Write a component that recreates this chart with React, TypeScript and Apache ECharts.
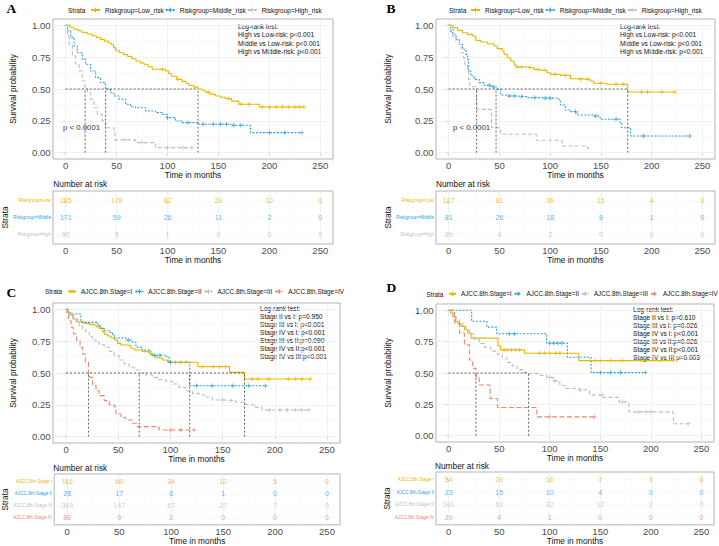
import React, { useEffect, useRef } from 'react';
import * as echarts from 'echarts';

const FONT = '"Liberation Sans", Arial, Helvetica, sans-serif';
const YEL = '#E7B800';
const BLU = '#2E9FDF';
const GRY = '#BDBDBD';
const SAL = '#E8896E';

const xTicks = [0, 50, 100, 150, 200, 250];
const xMinor = [25, 75, 125, 175, 225];
const yTicks = [0, 0.25, 0.5, 0.75, 1];
const yMinor = [0.125, 0.375, 0.625, 0.875];

const riskLegend = ['Riskgroup=Low_risk', 'Riskgroup=Middle_risk', 'Riskgroup=High_risk'];
const riskRows = ['Riskgroup=Low', 'Riskgroup=Middle', 'Riskgroup=High'];
const stageLegend = ['AJCC.8th.Stage=I', 'AJCC.8th.Stage=II', 'AJCC.8th.Stage=III', 'AJCC.8th.Stage=IV'];
const stageRows = ['AJCC.8th.Stage I', 'AJCC.8th.Stage II', 'AJCC.8th.Stage III', 'AJCC.8th.Stage IV'];

const logRankAB = ['Log-rank test:', 'High vs Low-risk: p<0.001', 'Middle vs Low-risk: p<0.001', 'High vs Middle-risk: p<0.001'];
const logRankC = ['Log-rank test:', 'Stage II vs I: p=0.950', 'Stage III vs I: p<0.001', 'Stage IV vs I: p<0.001', 'Stage III vs II:p=0.090', 'Stage IV vs II:p<0.001', 'Stage IV vs III:p<0.001'];
const logRankD = ['Log-rank test:', 'Stage II vs I: p=0.610', 'Stage III vs I: p=0.026', 'Stage IV vs I: p<0.001', 'Stage III vs II:p=0.026', 'Stage IV vs II:p<0.001', 'Stage IV vs III:p=0.003'];
const pValueText = 'p < 0.0001';

// ---- Panel A ----
const aLowT = [0,4,8,12,16,21,26,30,34,38,42,45,47,49,53,57,61,65,69,73,77,81,85,98,101,104,109,114,118,121,126,130,134,137,142,147,152,157,163,170,190,234];
const aLowS = [1,0.985,0.97,0.958,0.945,0.932,0.918,0.905,0.89,0.876,0.862,0.848,0.825,0.8,0.785,0.77,0.755,0.738,0.72,0.705,0.69,0.675,0.655,0.641,0.62,0.6,0.576,0.56,0.545,0.53,0.515,0.5,0.49,0.475,0.46,0.445,0.435,0.424,0.405,0.38,0.359,0.359];
const aLowC = [95,110,140,160,172,180,193,200,207,213,219,225,230,234];
const aMidT = [0,1.6,4.9,8.2,11.4,16.3,19.6,24.5,29.4,34.3,39.2,44.1,47.4,52.3,58.8,63.7,68.6,78.4,88.2,94.8,99.7,107.8,114.4,130.7,163.4,181.4,232];
const aMidS = [1,0.958,0.906,0.838,0.785,0.733,0.694,0.641,0.589,0.55,0.5,0.471,0.445,0.419,0.38,0.361,0.353,0.327,0.314,0.301,0.275,0.249,0.236,0.223,0.215,0.157,0.157];
const aMidC = [100,120,135,145,152,158,165,172,200,215,232];
const aHighT = [0,1.6,3.3,6.5,9.8,13.1,16.3,19,21.2,24.5,27.8,31,35.9,39.2,47.4,48.4,68.6,88.2,124];
const aHighS = [1,0.916,0.851,0.759,0.694,0.641,0.563,0.5,0.471,0.419,0.353,0.301,0.249,0.196,0.17,0.1,0.079,0.039,0.039];
const aHighC = [58,75,100,115,124];
const aRiskLow = [285,178,82,29,10,0];
const aRiskMid = [171,59,26,11,2,0];
const aRiskHigh = [95,5,1,0,0,0];

// ---- Panel B ----
const bLowT = [0,3.9,8.8,13.7,18.6,23.5,26.8,31.7,38.2,44.8,48,52.9,54.6,57.8,61.1,64.4,66,77.5,84,90.5,97.1,100.3,110.1,120,129.7,139.5,142.8,155.9,176.5,222.9];
const bLowS = [1,0.982,0.961,0.942,0.929,0.916,0.882,0.869,0.856,0.838,0.817,0.798,0.772,0.746,0.72,0.694,0.673,0.668,0.654,0.647,0.628,0.615,0.607,0.581,0.576,0.563,0.545,0.537,0.476,0.476];
const bLowC = [68,72,80,88,95,105,115,130,137,150,165,172,190,196,210,222.9];
const bMidT = [0,1.6,3.9,7.2,10.5,13.7,17,18.6,19.6,21.9,25.2,30.1,35,41.5,46.7,51.3,57.8,67.6,77.5,90.5,106.9,110.1,115,119.9,126.5,142.8,149.3,169,170.6,179.4,237.6];
const bMidS = [1,0.955,0.916,0.89,0.851,0.812,0.772,0.733,0.641,0.602,0.576,0.55,0.529,0.518,0.497,0.453,0.445,0.44,0.432,0.427,0.419,0.374,0.335,0.322,0.296,0.288,0.262,0.236,0.196,0.131,0.131];
const bMidC = [40,44,60,65,72,85,95,100,125,145,165,192,237.6];
const bHighT = [0,2.3,4.9,7.2,10.5,12.1,14.7,16,18.6,19.6,20.9,27.5,42.2,51.3,86.3,111.8,137.3];
const bHighS = [1,0.969,0.929,0.877,0.838,0.785,0.746,0.694,0.641,0.576,0.518,0.34,0.196,0.144,0.097,0.052,0];
const bHighC: number[] = [];
const bRiskLow = [127,81,39,15,4,0];
const bRiskMid = [81,26,18,8,1,0];
const bRiskHigh = [29,4,2,0,0,0];

// ---- Panel C ----
const cIT = [0,2.2,4.8,7,11.1,17.5,22.3,25.5,28.7,31.8,35,36.6,39.8,43,46.2,49.4,52.5,58.9,62.1,65.3,73.2,79.6,82.8,86,92.4,97.1,126.4,156.7,171,234];
const cIS = [1,0.976,0.955,0.924,0.903,0.89,0.882,0.877,0.864,0.851,0.825,0.804,0.791,0.777,0.759,0.733,0.72,0.715,0.694,0.681,0.668,0.654,0.636,0.62,0.602,0.584,0.55,0.505,0.453,0.453];
const cIC = [100,105,110,115,131,141,147,153,178,184,194,213,220,226,234];
const cIIT = [0,1.6,3.2,14.3,30.3,33.4,36.6,41.4,44.6,46.2,57.3,63.7,66.9,73,81.2,95.5,98.7,118.5,191.1];
const cIIS = [1,0.976,0.963,0.898,0.872,0.851,0.832,0.819,0.801,0.775,0.759,0.742,0.702,0.68,0.639,0.628,0.584,0.4,0.4];
const cIIC = [60,85,90,100,125,140,160,175,191.1];
const cIIIT = [0,1.6,3.8,6.4,9.6,12.7,15.9,19.1,22.3,25.5,28.7,31.8,36.6,41.4,46.2,51,55.7,60.5,65.3,70.1,76.4,82.8,89.2,95.5,101.9,108.3,114.6,121,127.4,133.8,140.1,152.9,162.4,172,181.5,187.9,232.5];
const cIIIS = [1,0.976,0.95,0.924,0.898,0.872,0.846,0.819,0.785,0.759,0.741,0.723,0.702,0.67,0.636,0.602,0.571,0.545,0.524,0.498,0.484,0.466,0.448,0.435,0.414,0.387,0.361,0.34,0.327,0.309,0.288,0.283,0.27,0.251,0.23,0.209,0.209];
const cIIIC = [150,158,195,205,212,220,226,232.5];
const cIVT = [0,1,2.5,4.8,7,10.2,13.4,15.9,18.5,21.5,22.3,25.5,28.7,31.8,36.6,41.4,46.2,47.8,52.5,57.3,63.7,68.5,86,89.2,122.6];
const cIVS = [1,0.963,0.911,0.859,0.806,0.754,0.702,0.649,0.584,0.49,0.466,0.401,0.361,0.322,0.283,0.251,0.236,0.178,0.152,0.131,0.105,0.079,0.073,0.052,0.052];
const cIVC = [100,110,122.6];
const cRiskI = [116,69,34,12,5,0];
const cRiskII = [28,17,6,1,0,0];
const cRiskIII = [319,147,67,27,7,0];
const cRiskIV = [88,9,2,0,0,0];

// ---- Panel D ----
const dIT = [0,2,4.2,6.8,9.1,12.4,15.6,18.9,22.1,48.8,51.4,74.9,128.9,222.3];
const dIS = [1,0.979,0.947,0.912,0.893,0.872,0.845,0.818,0.778,0.717,0.684,0.658,0.599,0.599];
const dIC = [55,58,62,66,70,90,95,100,106,110,140,145,150,160,172,190,210,222.3];
const dIIT = [0,22.8,37.8,47.5,97,117.5,140.9,194.7];
const dIIS = [1,0.912,0.866,0.813,0.738,0.626,0.503,0.503];
const dIIC = [60,65,100,104,108,112,150,160,170,194.7];
const dIIIT = [0,4.2,7.5,10.7,14,17.3,20.5,25.4,30.3,35.2,41.7,48.2,53.1,57.9,62.8,67.7,74.2,79.1,90.5,97,103.5,110,114.9,129.6,139.3,152.3,168.6,178.4,222.3,237];
const dIIIS = [1,0.95,0.925,0.898,0.872,0.84,0.81,0.77,0.735,0.706,0.674,0.647,0.62,0.585,0.556,0.527,0.505,0.495,0.481,0.465,0.437,0.4,0.377,0.364,0.326,0.306,0.27,0.19,0.096,0.096];
const dIIIC = [100,105,130,152,172,188,195,200,237];
const dIVT = [0,5.9,10.7,15.6,20.5,23.8,27,30.3,41,48.2,87.2,144.2];
const dIVS = [1,0.898,0.818,0.725,0.604,0.537,0.471,0.404,0.297,0.225,0.15,0.15];
const dIVC = [100,144.2];
const dRiskI = [54,29,16,7,3,0];
const dRiskII = [23,15,10,4,0,0];
const dRiskIII = [131,63,32,12,2,0];
const dRiskIV = [29,4,1,0,0,0];

const PLUS = 'path://M2,0H3V2H5V3H3V5H2V3H0V2H2Z';
const DASH_LOW: any = 'solid';
const DASH_MID: any = [2, 1.5];
const DASH_HIGH: any = [4, 2.5];
const DASH_IV: any = [5, 2.5];

function stepAt(T: number[], S: number[], t: number) {
  let v = S[0];
  for (let i = 0; i < T.length; i++) {
    if (T[i] <= t) v = S[i];
    else break;
  }
  return v;
}
function medianOf(T: number[], S: number[]) {
  for (let i = 0; i < T.length; i++) if (S[i] <= 0.5) return T[i];
  return null;
}

type Curve = { name: string; T: number[]; S: number[]; cens: number[]; color: string; dash: any };

const panels: any[] = [
  {
    letter: 'A', letterPos: [6.5, 8],
    plot: { left: 53, top: 19, width: 280, height: 140 },
    table: { left: 53, top: 191, width: 280, height: 53 },
    curves: [
      { name: riskLegend[0], T: aLowT, S: aLowS, cens: aLowC, color: YEL, dash: DASH_LOW },
      { name: riskLegend[1], T: aMidT, S: aMidS, cens: aMidC, color: BLU, dash: DASH_MID },
      { name: riskLegend[2], T: aHighT, S: aHighS, cens: aHighC, color: GRY, dash: DASH_HIGH },
    ],
    rows: riskRows, risk: [aRiskLow, aRiskMid, aRiskHigh], rowColors: [YEL, BLU, GRY],
    legendPos: [90, 6.5], legendFont: 6.5, legendItemW: 9, legendGap: 1, strataPos: [68, 10],
    logRank: logRankAB, logRankPos: [238, 22.5], lineH: 8.33,
    pPos: [63, 127.2], nRiskPos: [53.3, 184],
    yNameGap: 36, tYNameGap: 44, xNameGap: 10.5, txNameGap: 9,
  },
  {
    letter: 'B', letterPos: [386.5, 8],
    plot: { left: 436, top: 19, width: 279, height: 140 },
    table: { left: 436, top: 191, width: 279, height: 53 },
    curves: [
      { name: riskLegend[0], T: bLowT, S: bLowS, cens: bLowC, color: YEL, dash: DASH_LOW },
      { name: riskLegend[1], T: bMidT, S: bMidS, cens: bMidC, color: BLU, dash: DASH_MID },
      { name: riskLegend[2], T: bHighT, S: bHighS, cens: bHighC, color: GRY, dash: DASH_HIGH },
    ],
    rows: riskRows, risk: [bRiskLow, bRiskMid, bRiskHigh], rowColors: [YEL, BLU, GRY],
    legendPos: [470, 6.5], legendFont: 6.5, legendItemW: 9, legendGap: 1, strataPos: [449, 10],
    logRank: logRankAB, logRankPos: [620, 22.5], lineH: 8.33,
    pPos: [453, 127.2], nRiskPos: [436, 184],
    yNameGap: 44, tYNameGap: 44, xNameGap: 10, txNameGap: 9,
  },
  {
    letter: 'C', letterPos: [6.5, 292],
    plot: { left: 53, top: 303, width: 287, height: 140 },
    table: { left: 53, top: 474, width: 287, height: 54 },
    curves: [
      { name: stageLegend[0], T: cIT, S: cIS, cens: cIC, color: YEL, dash: DASH_LOW },
      { name: stageLegend[1], T: cIIT, S: cIIS, cens: cIIC, color: BLU, dash: DASH_MID },
      { name: stageLegend[2], T: cIIIT, S: cIIIS, cens: cIIIC, color: GRY, dash: DASH_HIGH },
      { name: stageLegend[3], T: cIVT, S: cIVS, cens: cIVC, color: SAL, dash: DASH_IV },
    ],
    rows: stageRows, risk: [cRiskI, cRiskII, cRiskIII, cRiskIV], rowColors: [YEL, BLU, GRY, SAL],
    legendPos: [67, 288.5], legendFont: 6.4, legendItemW: 8, legendGap: 2, strataPos: [45, 291.7],
    logRank: logRankC, logRankPos: [260, 304.7], lineH: 8,
    pPos: null, nRiskPos: [53.3, 467.7],
    yNameGap: 36, tYNameGap: 43, xNameGap: 9.5, txNameGap: 8.5,
  },
  {
    letter: 'D', letterPos: [386.5, 287],
    plot: { left: 436, top: 304, width: 278, height: 138 },
    table: { left: 436, top: 472, width: 278, height: 53 },
    curves: [
      { name: stageLegend[0], T: dIT, S: dIS, cens: dIC, color: YEL, dash: DASH_LOW },
      { name: stageLegend[1], T: dIIT, S: dIIS, cens: dIIC, color: BLU, dash: DASH_MID },
      { name: stageLegend[2], T: dIIIT, S: dIIIS, cens: dIIIC, color: GRY, dash: DASH_HIGH },
      { name: stageLegend[3], T: dIVT, S: dIVS, cens: dIVC, color: SAL, dash: DASH_IV },
    ],
    rows: stageRows, risk: [dRiskI, dRiskII, dRiskIII, dRiskIV], rowColors: [YEL, BLU, GRY, SAL],
    legendPos: [448, 290.8], legendFont: 6.3, legendItemW: 7, legendGap: 2, strataPos: [426.5, 294],
    logRank: logRankD, logRankPos: [633, 305.3], lineH: 8,
    pPos: null, nRiskPos: [435, 466],
    yNameGap: 44, tYNameGap: 45, xNameGap: 9, txNameGap: 11,
  },
];

const MAJOR = { color: '#EBEBEB', width: 0.7, type: 'solid' };
const MINOR = { color: '#F5F5F5', width: 0.5, type: 'solid' };

function xAxisCfg(gridIndex: number, nameGap: number) {
  return {
    type: 'value', gridIndex, min: -12.5, max: 262.5,
    axisLine: { show: false }, splitLine: { show: false },
    axisTick: { show: true, customValues: xTicks, length: 2.5, lineStyle: { color: '#8a8a8a', width: 0.8 } },
    axisLabel: { show: true, customValues: xTicks, fontSize: 9.5, lineHeight: 9.5, color: '#4D4D4D', margin: 1.5, fontFamily: FONT },
    name: 'Time in months', nameLocation: 'middle', nameGap,
    nameTextStyle: { fontSize: 8.3, color: '#111', fontFamily: FONT },
  };
}

function buildOption() {
  const grids: any[] = [];
  const xAxes: any[] = [];
  const yAxes: any[] = [];
  const series: any[] = [];
  const legends: any[] = [];
  const graphics: any[] = [];

  panels.forEach((p: any) => {
    const ai = grids.length;
    grids.push({ ...p.plot, show: true, borderColor: '#B3B3B3', borderWidth: 1, backgroundColor: 'transparent', containLabel: false });
    const ti = grids.length;
    grids.push({ ...p.table, show: true, borderColor: '#B3B3B3', borderWidth: 1, backgroundColor: 'transparent', containLabel: false });

    xAxes.push(xAxisCfg(ai, p.xNameGap));
    yAxes.push({
      type: 'value', gridIndex: ai, min: -0.05, max: 1.05,
      axisLine: { show: false }, splitLine: { show: false },
      axisTick: { show: true, customValues: yTicks, length: 2.5, lineStyle: { color: '#8a8a8a', width: 0.8 } },
      axisLabel: { customValues: yTicks, formatter: (v: any) => Number(v).toFixed(2), fontSize: 9.5, lineHeight: 9.5, color: '#4D4D4D', margin: 2.5, fontFamily: FONT },
      name: 'Survival probability', nameLocation: 'middle', nameGap: p.yNameGap, nameRotate: 90,
      nameTextStyle: { fontSize: 8.3, color: '#111', fontFamily: FONT },
    });
    xAxes.push(xAxisCfg(ti, p.txNameGap));
    const rowIdx = p.rows.map((_: any, i: number) => i);
    yAxes.push({
      type: 'value', gridIndex: ti, min: -0.6, max: p.rows.length - 0.4, inverse: true,
      axisLine: { show: false }, splitLine: { show: false },
      axisTick: { show: true, customValues: rowIdx, length: 2, lineStyle: { color: '#8a8a8a', width: 0.8 } },
      axisLabel: {
        customValues: rowIdx,
        formatter: (v: any) => p.rows[Math.round(Number(v))] ?? '',
        color: (v: any) => p.rowColors[Math.round(Number(v))] ?? '#999',
        fontSize: 4.7, margin: 2, fontFamily: FONT,
      },
      name: 'Strata', nameLocation: 'middle', nameGap: p.tYNameGap, nameRotate: 90,
      nameTextStyle: { fontSize: 8.3, color: '#111', fontFamily: FONT },
    });

    // grid lines (plot)
    series.push({
      type: 'line', xAxisIndex: ai, yAxisIndex: ai, data: [], silent: true, z: 1,
      markLine: {
        silent: true, symbol: ['none', 'none'], label: { show: false }, z: 1, animation: false,
        data: [
          ...xMinor.map((v) => ({ xAxis: v, lineStyle: MINOR })),
          ...yMinor.map((v) => ({ yAxis: v, lineStyle: MINOR })),
          ...xTicks.map((v) => ({ xAxis: v, lineStyle: MAJOR })),
          ...yTicks.map((v) => ({ yAxis: v, lineStyle: MAJOR })),
        ],
      },
    });
    // grid lines (table)
    series.push({
      type: 'line', xAxisIndex: ti, yAxisIndex: ti, data: [], silent: true, z: 1,
      markLine: {
        silent: true, symbol: ['none', 'none'], label: { show: false }, z: 1, animation: false,
        data: [
          ...xMinor.map((v) => ({ xAxis: v, lineStyle: MINOR })),
          ...xTicks.map((v) => ({ xAxis: v, lineStyle: MAJOR })),
          ...rowIdx.map((v: number) => ({ yAxis: v, lineStyle: MINOR })),
        ],
      },
    });

    // curves
    p.curves.forEach((c: Curve) => {
      series.push({
        type: 'line', name: c.name, xAxisIndex: ai, yAxisIndex: ai,
        data: c.T.map((t, i) => [t, c.S[i]]), step: 'end',
        showSymbol: false, symbol: PLUS, symbolSize: 5,
        lineStyle: { color: c.color, width: 1.1, type: c.dash },
        itemStyle: { color: c.color }, z: 3, silent: true,
      });
      if (c.cens.length) {
        series.push({
          type: 'scatter', xAxisIndex: ai, yAxisIndex: ai,
          data: c.cens.map((t) => [t, stepAt(c.T, c.S, t)]),
          symbol: PLUS, symbolSize: 4.5, itemStyle: { color: c.color }, z: 4, silent: true,
        });
      }
    });

    // median lines
    const meds = p.curves.map((c: Curve) => medianOf(c.T, c.S)).filter((m: any) => m != null) as number[];
    if (meds.length) {
      const mMax = Math.max(...meds);
      const ls = { color: '#3a3a3a', width: 0.8, type: [2, 2] };
      series.push({ type: 'line', xAxisIndex: ai, yAxisIndex: ai, data: [[0, 0.5], [mMax, 0.5]], symbol: 'none', lineStyle: ls, z: 5, silent: true });
      meds.forEach((m) => {
        series.push({ type: 'line', xAxisIndex: ai, yAxisIndex: ai, data: [[m, 0], [m, 0.5]], symbol: 'none', lineStyle: ls, z: 5, silent: true });
      });
    }

    // risk table numbers
    p.risk.forEach((vals: number[], r: number) => {
      series.push({
        type: 'scatter', xAxisIndex: ti, yAxisIndex: ti,
        data: xTicks.map((t, j) => [t, r, vals[j]]),
        symbol: 'circle', symbolSize: 1, itemStyle: { color: 'rgba(0,0,0,0)' }, silent: true, z: 3,
        label: {
          show: true, position: 'inside', formatter: (q: any) => String(q.value[2]),
          color: p.rowColors[r], fontSize: 7, fontFamily: FONT,
        },
      });
    });

    legends.push({
      show: true, left: p.legendPos[0], top: p.legendPos[1], width: 320, padding: 0, orient: 'horizontal',
      itemWidth: p.legendItemW, itemHeight: 6, itemGap: p.legendGap, selectedMode: false,
      data: p.curves.map((c: Curve) => c.name),
      textStyle: { fontSize: p.legendFont, color: '#111', fontFamily: FONT },
    });

    graphics.push({
      type: 'text', x: p.letterPos[0], y: p.letterPos[1], silent: true,
      style: { text: p.letter, fill: '#000', fontSize: 13.5, fontWeight: 'bold', fontFamily: '"Liberation Serif", "Times New Roman", serif', textVerticalAlign: 'middle', textAlign: 'left' },
    });
    graphics.push({
      type: 'text', x: p.strataPos[0], y: p.strataPos[1], silent: true,
      style: { text: 'Strata', fill: '#111', fontSize: p.legendFont, fontFamily: FONT, textVerticalAlign: 'middle', textAlign: 'left' },
    });
    graphics.push({
      type: 'text', x: p.logRankPos[0], y: p.logRankPos[1], silent: true,
      style: { text: p.logRank.join('\n'), fill: '#111', fontSize: 6.6, lineHeight: p.lineH, fontFamily: FONT, textVerticalAlign: 'top', textAlign: 'left' },
    });
    if (p.pPos) {
      graphics.push({
        type: 'text', x: p.pPos[0], y: p.pPos[1], silent: true,
        style: { text: pValueText, fill: '#333', fontSize: 7.8, fontFamily: FONT, textVerticalAlign: 'middle', textAlign: 'left' },
      });
    }
    graphics.push({
      type: 'text', x: p.nRiskPos[0], y: p.nRiskPos[1], silent: true,
      style: { text: 'Number at risk', fill: '#111', fontSize: 8.3, fontFamily: FONT, textVerticalAlign: 'middle', textAlign: 'left' },
    });
  });

  return {
    animation: false,
    backgroundColor: '#ffffff',
    textStyle: { fontFamily: FONT },
    grid: grids,
    xAxis: xAxes,
    yAxis: yAxes,
    legend: legends,
    series,
    graphic: { elements: graphics },
  };
}

export default function App() {
  const ref = useRef<HTMLDivElement>(null);
  useEffect(() => {
    if (!ref.current) return;
    const chart = echarts.init(ref.current, null, { renderer: 'svg' });
    chart.setOption(buildOption() as any);
    return () => {
      chart.dispose();
    };
  }, []);
  return (
    <div
      ref={ref}
      style={{ position: 'absolute', left: 0, top: 0, width: 719, height: 546, background: '#fff' }}
    />
  );
}
